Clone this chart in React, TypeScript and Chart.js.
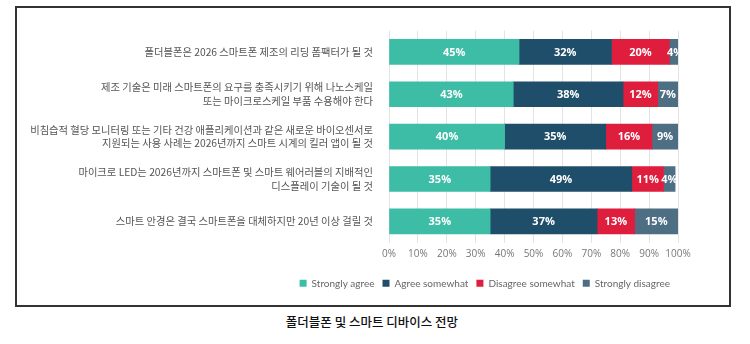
import React, { useEffect, useRef } from 'react';
import { Chart, registerables } from 'chart.js';

Chart.register(...registerables);

const categories: string[][] = [
  ['폴더블폰은 2026 스마트폰 제조의 리딩 폼팩터가 될 것'],
  ['제조 기술은 미래 스마트폰의 요구를 충족시키기 위해 나노스케일', '또는 마이크로스케일 부품 수용해야 한다'],
  ['비침습적 혈당 모니터링 또는 기타 건강 애플리케이션과 같은 새로운 바이오센서로', '지원되는 사용 사례는 2026년까지 스마트 시계의 킬러 앱이 될 것'],
  ['마이크로 LED는 2026년까지 스마트폰 및 스마트 웨어러블의 지배적인', '디스플레이 기술이 될 것'],
  ['스마트 안경은 결국 스마트폰을 대체하지만 20년 이상 걸릴 것'],
];

const seriesNames = ['Strongly agree', 'Agree somewhat', 'Disagree somewhat', 'Strongly disagree'];
const stronglyAgree = [45, 43, 40, 35, 35];
const agreeSomewhat = [32, 38, 35, 49, 37];
const disagreeSomewhat = [20, 12, 16, 11, 13];
const stronglyDisagree = [4, 7, 9, 4, 15];
const seriesColors = ['#3dbda5', '#1f4e6b', '#de1e3c', '#4e6e84'];

const chartTitle = '폴더블폰 및 스마트 디바이스 전망';

const segLabels = {
  id: 'segLabels',
  afterDatasetsDraw(chart: any) {
    const { ctx, chartArea } = chart;
    ctx.save();
    ctx.beginPath();
    ctx.rect(chartArea.left, chartArea.top, chartArea.right - chartArea.left, chartArea.bottom - chartArea.top);
    ctx.clip();
    ctx.font = 'bold 11px "Open Sans"';
    ctx.fillStyle = '#ffffff';
    ctx.textAlign = 'center';
    ctx.textBaseline = 'middle';
    chart.data.datasets.forEach((ds: any, i: number) => {
      const meta = chart.getDatasetMeta(i);
      meta.data.forEach((bar: any, j: number) => {
        const v = ds.data[j];
        const cx = (bar.x + bar.base) / 2;
        ctx.fillText(v + '%', cx, bar.y + 0.5);
      });
    });
    ctx.restore();
  },
};

export default function App() {
  const ref = useRef<HTMLCanvasElement | null>(null);

  useEffect(() => {
    if (!ref.current) return;
    const values = [stronglyAgree, agreeSomewhat, disagreeSomewhat, stronglyDisagree];
    const chart = new Chart(ref.current, {
      type: 'bar',
      data: {
        labels: categories,
        datasets: seriesNames.map((name, i) => ({
          label: name,
          data: values[i],
          backgroundColor: seriesColors[i],
          borderWidth: 0,
          barThickness: 25,
        })),
      },
      options: {
        indexAxis: 'y',
        responsive: false,
        animation: false,
        maintainAspectRatio: false,
        layout: { padding: { top: 13.5, right: 51, bottom: 6.7, left: 0 } },
        scales: {
          x: {
            stacked: true,
            min: 0,
            max: 100,
            ticks: {
              stepSize: 10,
              callback: (v: any) => v + '%',
              color: '#777',
              font: { family: '"Open Sans"', size: 10 },
              padding: 6,
              maxRotation: 0,
            },
            grid: { color: '#e3e3e3', drawTicks: false, lineWidth: 1 },
            border: { display: false },
            afterFit: (s: any) => { s.height = 27.8; },
          },
          y: {
            stacked: true,
            ticks: {
              color: '#555',
              font: { family: '"Noto Sans CJK KR"', size: 10.3, lineHeight: 1.3 },
              padding: 16,
              autoSkip: false,
            },
            grid: { display: false, drawTicks: false },
            border: { display: false },
            afterFit: (s: any) => { s.width = 372; },
          },
        },
        plugins: {
          legend: {
            position: 'bottom',
            align: 'end',
            labels: {
              boxWidth: 7,
              boxHeight: 7,
              padding: 8,
              color: '#666',
              font: { family: 'Lato', size: 10 },
            },
          },
          tooltip: { enabled: false },
        },
      },
      plugins: [segLabels],
    });
    return () => chart.destroy();
  }, []);

  return (
    <div style={{ position: 'absolute', left: 0, top: 0, width: 750, height: 344, background: '#fff' }}>
      <div style={{ position: 'absolute', left: 15, top: 6, width: 716, height: 301, border: '2px solid #333', boxSizing: 'border-box' }} />
      <canvas ref={ref} width={712} height={297} style={{ position: 'absolute', left: 17, top: 8, width: 712, height: 297 }} />
      <div style={{ position: 'absolute', left: 0, top: 313, width: 744, textAlign: 'center', fontFamily: '"Noto Sans CJK KR"', fontSize: 12.5, lineHeight: '18px', fontWeight: 500, color: '#111' }}>
        {chartTitle}
      </div>
    </div>
  );
}
